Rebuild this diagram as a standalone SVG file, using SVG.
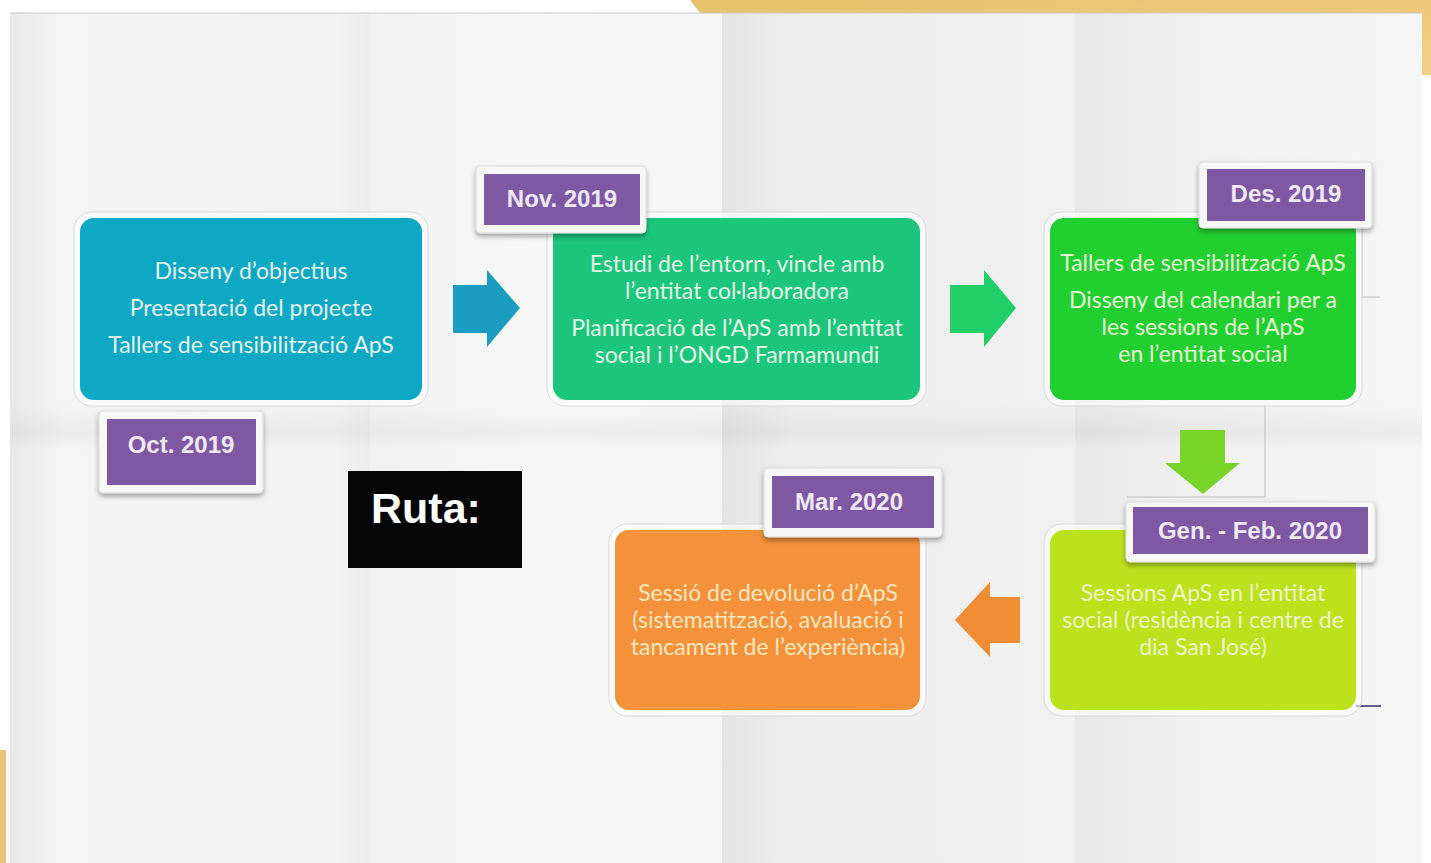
<svg xmlns="http://www.w3.org/2000/svg" width="1431" height="863" viewBox="0 0 1431 863">
<style>
.body{font-family:Lato,"Liberation Sans",sans-serif;font-size:23px;text-anchor:middle}
.lbl{font-family:"Liberation Sans",Arial,sans-serif;font-weight:bold;font-size:24px;fill:#efe8f3;text-anchor:middle}
.halo{fill:#ffffff;fill-opacity:0.55;stroke:#d9d9d9;stroke-width:1}
.frame{fill:#f7f7f7;stroke:#dcdcdc;stroke-width:1}
.purple{fill:#7f58a4}
.art{fill:none;stroke:#bdbdbd;stroke-width:1}
</style>
<defs>
<filter id="sh" x="-20%" y="-20%" width="140%" height="150%">
<feDropShadow dx="0" dy="3" stdDeviation="2.5" flood-color="#000" flood-opacity="0.35"/>
</filter>
<linearGradient id="p1" x1="0" x2="1" y1="0" y2="0"><stop offset="0" stop-color="#e9e9e9"/><stop offset="0.15" stop-color="#f5f5f5"/><stop offset="0.9" stop-color="#f3f3f3"/><stop offset="1" stop-color="#ededed"/></linearGradient>
<linearGradient id="p2" x1="0" x2="1" y1="0" y2="0"><stop offset="0" stop-color="#f2f2f2"/><stop offset="0.5" stop-color="#f8f8f8"/><stop offset="1" stop-color="#f5f5f5"/></linearGradient>
<linearGradient id="p3" x1="0" x2="1" y1="0" y2="0"><stop offset="0" stop-color="#e4e4e4"/><stop offset="0.2" stop-color="#eeeeee"/><stop offset="1" stop-color="#f1f1f1"/></linearGradient>
<linearGradient id="p4" x1="0" x2="1" y1="0" y2="0"><stop offset="0" stop-color="#e8e8e8"/><stop offset="0.3" stop-color="#f0f0f0"/><stop offset="1" stop-color="#f6f6f6"/></linearGradient>
<linearGradient id="hf" x1="0" x2="0" y1="0" y2="1"><stop offset="0" stop-color="#000" stop-opacity="0"/><stop offset="0.6" stop-color="#000" stop-opacity="0.04"/><stop offset="1" stop-color="#000" stop-opacity="0"/></linearGradient>
<linearGradient id="yl" x1="0" x2="1" y1="0" y2="1"><stop offset="0" stop-color="#e8c06a"/><stop offset="1" stop-color="#f0d08a"/></linearGradient>
</defs>

<!-- background paper -->
<g id="background">
<rect x="0" y="0" width="1431" height="863" fill="#ffffff"/>
<polygon points="690,0 1431,0 1431,75 1421,75 1421,13 700,13" fill="url(#yl)"/>
<rect x="0" y="750" width="6" height="113" fill="#e8c47a"/>
<rect x="10" y="13" width="360" height="850" fill="url(#p1)"/>
<rect x="370" y="13" width="352" height="850" fill="url(#p2)"/>
<rect x="722" y="13" width="353" height="850" fill="url(#p3)"/>
<rect x="1075" y="13" width="347" height="850" fill="url(#p4)"/>
<rect x="10" y="405" width="1412" height="45" fill="url(#hf)"/>
<line x1="10" y1="13" x2="1421" y2="13" stroke="#c8c8c8" stroke-width="1"/>
</g>

<!-- connectors (block arrows) -->
<g id="connectors">
<polygon id="arrow1" points="453,285 487,285 487,270 520,308 487,347 487,333 453,333" fill="#1a9dc1"/>
<polygon id="arrow2" points="950,285 984,285 984,270 1016,308 984,347 984,333 950,333" fill="#20cf68"/>
<polygon id="arrow3" points="1180,430 1225,430 1225,463 1240,463 1203,494 1165,463 1180,463" fill="#78d426"/>
<polygon id="arrow4" points="1020,597 990,597 990,582 955,620 990,657 990,643 1020,643" fill="#f08c32"/>
<polyline class="art" points="1362,223 1362,297 1380,297"/>
<polyline class="art" points="1265,405 1265,497 1127,497"/>
<line x1="1356" y1="706" x2="1381" y2="706" stroke="#6a5a8c" stroke-width="2"/>
</g>

<!-- step 1 -->
<g id="step1">
<rect class="halo" x="74" y="212" width="354" height="194" rx="18"/>
<rect x="80" y="218" width="342" height="182" rx="14" fill="#0ea8c5"/>
<text class="body" fill="#e4f3f0"><tspan x="251" y="279">Disseny d’objectius</tspan><tspan x="251" y="316">Presentació del projecte</tspan><tspan x="251" y="353">Tallers de sensibilització ApS</tspan></text>
</g>
<g id="label-oct2019">
<rect class="frame" x="99" y="411" width="164" height="82" rx="4" filter="url(#sh)"/>
<rect class="purple" x="107" y="419" width="149" height="66"/>
<text class="lbl" x="181" y="453">Oct. 2019</text>
</g>

<!-- step 2 -->
<g id="step2">
<rect class="halo" x="547" y="212" width="379" height="194" rx="18"/>
<rect x="553" y="218" width="367" height="182" rx="14" fill="#1cc57c"/>
<text class="body" fill="#e2f5e8"><tspan x="737" y="272">Estudi de l’entorn, vincle amb</tspan><tspan x="737" y="299">l’entitat col·laboradora</tspan><tspan x="737" y="336">Planificació de l’ApS amb l’entitat</tspan><tspan x="737" y="363">social i l’ONGD Farmamundi</tspan></text>
</g>
<g id="label-nov2019">
<rect class="frame" x="476" y="166" width="170" height="67" rx="4" filter="url(#sh)"/>
<rect class="purple" x="484" y="174" width="156" height="51"/>
<text class="lbl" x="562" y="207">Nov. 2019</text>
</g>

<!-- step 3 -->
<g id="step3">
<rect class="halo" x="1044" y="212" width="318" height="194" rx="18"/>
<rect x="1050" y="218" width="306" height="182" rx="14" fill="#22cf30"/>
<text class="body" fill="#e6f6d6"><tspan x="1203" y="271">Tallers de sensibilització ApS</tspan><tspan x="1203" y="308">Disseny del calendari per a</tspan><tspan x="1203" y="335">les sessions de l’ApS</tspan><tspan x="1203" y="362">en l’entitat social</tspan></text>
</g>
<g id="label-des2019">
<rect class="frame" x="1199" y="162" width="173" height="66" rx="4" filter="url(#sh)"/>
<rect class="purple" x="1207" y="169" width="158" height="52"/>
<text class="lbl" x="1286" y="202">Des. 2019</text>
</g>

<!-- step 4 -->
<g id="step4">
<rect class="halo" x="1044" y="524" width="318" height="192" rx="18"/>
<rect x="1050" y="530" width="306" height="180" rx="14" fill="#bce21e"/>
<text class="body" fill="#eef4c4"><tspan x="1203" y="601">Sessions ApS en l’entitat</tspan><tspan x="1203" y="628">social (residència i centre de</tspan><tspan x="1203" y="655">dia San José)</tspan></text>
</g>
<g id="label-genfeb2020">
<rect class="frame" x="1126" y="502" width="249" height="60" rx="4" filter="url(#sh)"/>
<rect class="purple" x="1133" y="507" width="235" height="47"/>
<text class="lbl" x="1250" y="539">Gen. - Feb. 2020</text>
</g>

<!-- step 5 -->
<g id="step5">
<rect class="halo" x="609" y="524" width="317" height="192" rx="18"/>
<rect x="615" y="530" width="305" height="180" rx="14" fill="#f3923a"/>
<text class="body" fill="#fbe6c0"><tspan x="768" y="601">Sessió de devolució d’ApS</tspan><tspan x="768" y="628">(sistematització, avaluació i</tspan><tspan x="768" y="655">tancament de l’experiència)</tspan></text>
</g>
<g id="label-mar2020">
<rect class="frame" x="764" y="468" width="178" height="69" rx="4" filter="url(#sh)"/>
<rect class="purple" x="772" y="476" width="162" height="52"/>
<text class="lbl" x="849" y="510">Mar. 2020</text>
</g>

<!-- Ruta -->
<g id="ruta">
<rect x="348" y="471" width="174" height="97" fill="#050505"/>
<text x="371" y="523" font-family="'Liberation Sans',Arial,sans-serif" font-weight="bold" font-size="43" fill="#ffffff">Ruta:</text>
</g>
</svg>
